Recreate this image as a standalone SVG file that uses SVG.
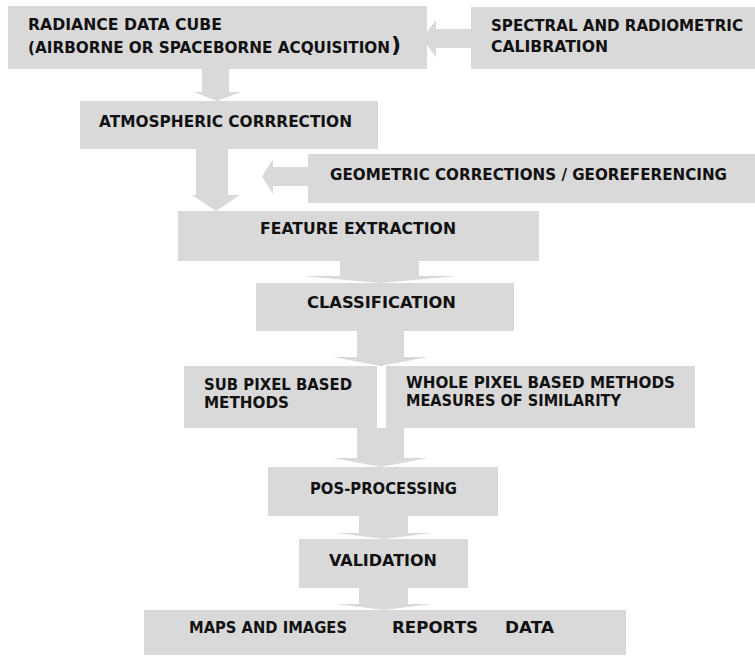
<svg xmlns="http://www.w3.org/2000/svg" width="755" height="657" viewBox="0 0 755 657">
  <style>
    .box { fill: #d9d9d9; }
    .conn { fill: #d9d9d9; }
    .lbl { font-family: "DejaVu Sans", "Liberation Sans", sans-serif; font-weight: bold; font-size: 15px; fill: #111; }
  </style>
  <rect width="755" height="657" fill="#ffffff"/>

  <!-- block arrows between the processing steps -->
  <g id="connectors">
    <polygon class="conn" points="471,29 436,29 436,20 422,38.5 436,57 436,48 471,48"/>
    <polygon class="conn" points="202,69 229,69 229,92 241,92 217,101 194,92 202,92"/>
    <polygon class="conn" points="196,149 228,149 228,195 240,195 216,211 192,195 196,195"/>
    <polygon class="conn" points="308,167 273,167 273,159 262,176.5 273,194 273,186 308,186"/>
    <polygon class="conn" points="340,261 419,261 419,276 458,276 380,283 302,276 340,276"/>
    <polygon class="conn" points="357,331 404,331 404,357 428,357 381,366 333,357 357,357"/>
    <polygon class="conn" points="357,428 404,428 404,458 428,458 381,467 333,458 357,458"/>
    <polygon class="conn" points="359,516 408,516 408,533 432,533 384,539 336,533 359,533"/>
    <polygon class="conn" points="359,588 408,588 408,604 432,604 384,610 336,604 359,604"/>
  </g>

  <g id="radiance">
    <rect class="box" x="8" y="6" width="419" height="63"/>
    <text class="lbl" x="28" y="29.5" textLength="194" lengthAdjust="spacingAndGlyphs">RADIANCE DATA CUBE</text>
    <text class="lbl" x="28" y="53" textLength="362" lengthAdjust="spacingAndGlyphs">(AIRBORNE OR SPACEBORNE ACQUISITION</text>
    <text class="lbl" x="391" y="52" style="font-size:22px">)</text>
  </g>

  <g id="calibration">
    <rect class="box" x="471" y="7" width="284" height="62"/>
    <text class="lbl" x="491" y="31" textLength="252" lengthAdjust="spacingAndGlyphs">SPECTRAL AND RADIOMETRIC</text>
    <text class="lbl" x="491" y="52" textLength="117" lengthAdjust="spacingAndGlyphs">CALIBRATION</text>
  </g>

  <g id="atmospheric">
    <rect class="box" x="80" y="101" width="298" height="48"/>
    <text class="lbl" x="99" y="127" textLength="253" lengthAdjust="spacingAndGlyphs">ATMOSPHERIC CORRRECTION</text>
  </g>

  <g id="geometric">
    <rect class="box" x="308" y="154" width="447" height="49"/>
    <text class="lbl" x="330" y="180" textLength="397" lengthAdjust="spacingAndGlyphs">GEOMETRIC CORRECTIONS / GEOREFERENCING</text>
  </g>

  <g id="feature">
    <rect class="box" x="178" y="211" width="361" height="50"/>
    <text class="lbl" x="260" y="234" textLength="196" lengthAdjust="spacingAndGlyphs">FEATURE EXTRACTION</text>
  </g>

  <g id="classification">
    <rect class="box" x="256" y="283" width="258" height="48"/>
    <text class="lbl" x="307" y="308" textLength="149" lengthAdjust="spacingAndGlyphs">CLASSIFICATION</text>
  </g>

  <g id="subpixel">
    <rect class="box" x="184" y="366" width="193" height="62"/>
    <text class="lbl" x="204" y="390" textLength="148" lengthAdjust="spacingAndGlyphs">SUB PIXEL BASED</text>
    <text class="lbl" x="204" y="408" textLength="85" lengthAdjust="spacingAndGlyphs">METHODS</text>
  </g>

  <g id="wholepixel">
    <rect class="box" x="386" y="366" width="309" height="62"/>
    <text class="lbl" x="406" y="388" textLength="269" lengthAdjust="spacingAndGlyphs">WHOLE PIXEL BASED METHODS</text>
    <text class="lbl" x="406" y="406" textLength="215" lengthAdjust="spacingAndGlyphs">MEASURES OF SIMILARITY</text>
  </g>

  <g id="posprocessing">
    <rect class="box" x="268" y="467" width="230" height="49"/>
    <text class="lbl" x="310" y="494" textLength="147" lengthAdjust="spacingAndGlyphs">POS-PROCESSING</text>
  </g>

  <g id="validation">
    <rect class="box" x="299" y="539" width="169" height="49"/>
    <text class="lbl" x="329" y="566" textLength="108" lengthAdjust="spacingAndGlyphs">VALIDATION</text>
  </g>

  <g id="outputs">
    <rect class="box" x="144" y="610" width="482" height="45"/>
    <text class="lbl" x="189" y="633" textLength="158" lengthAdjust="spacingAndGlyphs">MAPS AND IMAGES</text>
    <text class="lbl" x="392" y="633" textLength="86" lengthAdjust="spacingAndGlyphs">REPORTS</text>
    <text class="lbl" x="505" y="633" textLength="49" lengthAdjust="spacingAndGlyphs">DATA</text>
  </g>
</svg>
